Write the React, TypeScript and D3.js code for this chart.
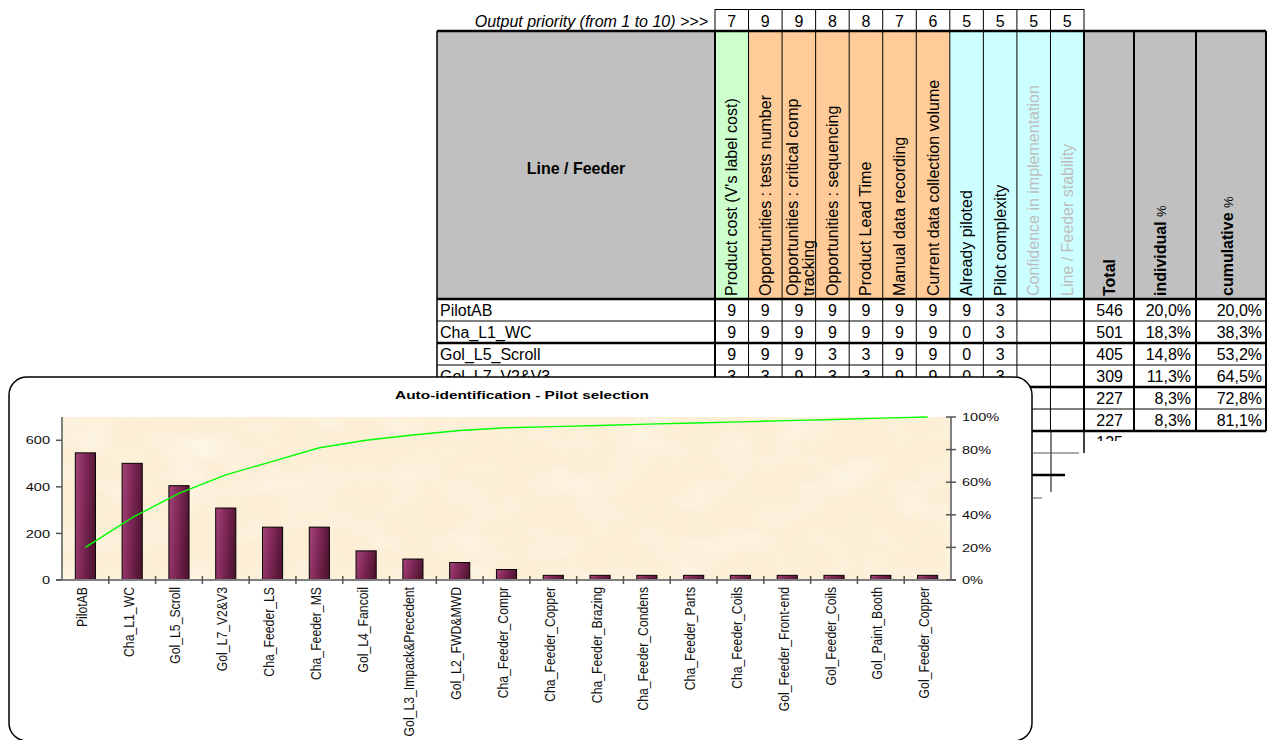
import React from 'react';
import * as d3 from 'd3';

// ---------- DATA ----------
const categories = [
  'PilotAB', 'Cha_L1_WC', 'Gol_L5_Scroll', 'Gol_L7_V2&V3', 'Cha_Feeder_LS', 'Cha_Feeder_MS',
  'Gol_L4_Fancoil', 'Gol_L3_Impack&Precedent', 'Gol_L2_FWD&MWD', 'Cha_Feeder_Compr',
  'Cha_Feeder_Copper', 'Cha_Feeder_Brazing', 'Cha_Feeder_Condens', 'Cha_Feeder_Parts',
  'Cha_Feeder_Coils', 'Gol_Feeder_Front-end', 'Gol_Feeder_Coils', 'Gol_Paint_Booth', 'Gol_Feeder_Copper',
];
const totals = [546, 501, 405, 309, 227, 227, 125, 90, 75, 45, 20, 20, 20, 20, 20, 20, 20, 20, 20];
const cumulativePct = [20.0, 38.3, 53.2, 64.5, 72.8, 81.1, 85.7, 89.0, 91.7, 93.4, 94.1, 94.8, 95.6, 96.3, 97.0, 97.8, 98.5, 99.3, 100.0];
const individualPct = [20.0, 18.3, 14.8, 11.3, 8.3, 8.3];
const leftTicks = [0, 200, 400, 600];
const rightTicks = [0, 20, 40, 60, 80, 100];

const criteria = [
  "Product cost (V's label cost)",
  'Opportunities : tests number',
  'Opportunities : critical comp|tracking',
  'Opportunities : sequencing',
  'Product Lead Time',
  'Manual data recording',
  'Current data collection volume',
  'Already piloted',
  'Pilot complexity',
  'Confidence in implementation',
  'Line / Feeder stability',
];
const criteriaGroup = ['cost', 'opp', 'opp', 'opp', 'opp', 'opp', 'opp', 'pilot', 'pilot', 'pilot', 'pilot'];
const criteriaMuted = [false, false, false, false, false, false, false, false, false, true, true];
const priorities = [7, 9, 9, 8, 8, 7, 6, 5, 5, 5, 5];
const scores: (number | null)[][] = [
  [9, 9, 9, 9, 9, 9, 9, 9, 3, null, null],
  [9, 9, 9, 9, 9, 9, 9, 0, 3, null, null],
  [9, 9, 9, 3, 3, 9, 9, 0, 3, null, null],
  [3, 3, 9, 3, 3, 9, 9, 0, 3, null, null],
];

// ---------- STYLE ----------
const FONT = 'Liberation Sans, Arial, Helvetica, sans-serif';
const groupFill: Record<string, string> = { cost: '#CCFFCC', opp: '#FFCC99', pilot: '#CCFFFF' };
const GRAY = '#C0C0C0';

const fmtPct = (v: number) => v.toFixed(1).replace('.', ',') + '%';

function ST(props: any) {
  const { x, y, sx = 1, sy = 1, rot = 0, children, ...rest } = props;
  return (
    <text transform={`translate(${x},${y}) rotate(${rot}) scale(${sx},${sy})`} fontFamily={FONT} {...rest}>
      {children}
    </text>
  );
}

export default function App() {
  // ---- table layout ----
  const tLeft = 437, nameRight = 715, critRight = 1084, totRight = 1134, indRight = 1196, cumRight = 1266;
  const prioTop = 9.5, headTop = 31, headBottom = 299;
  const colX = d3.scaleBand<number>().domain(d3.range(criteria.length)).range([nameRight, critRight]);
  const cw = colX.bandwidth();
  const rowY = d3.scaleLinear().domain([0, 6]).range([headBottom, 431]);
  const nRows = 6;
  const tSy = 1.08;
  const tFs = 16;
  const capT = 0.716 * tFs * tSy;

  // ---- chart layout ----
  const box = { x: 9, y: 377, w: 1023, h: 364, r: 18 };
  const pl = 62, pr = 951, pt = 417, pb = 580;
  const x = d3.scaleBand<string>().domain(categories).range([pl, pr]);
  const bw = x.bandwidth();
  const barW = bw * 0.43;
  const y = d3.scaleLinear().domain([0, 700]).range([pb, pt]);
  const yp = d3.scaleLinear().domain([0, 100]).range([pb, pt]);
  const line = d3.line<number>()
    .x((_, i) => (x(categories[i]) as number) + bw / 2)
    .y((d) => yp(d));

  const cFs = 13.5, cSx = 1.08, cSy = 0.86;
  const capC = 0.716 * cFs * cSy;

  const vLines: number[] = [];
  for (let i = 1; i < criteria.length; i++) vLines.push(colX(i) as number);

  return (
    <svg width={1273} height={740} style={{ position: 'absolute', left: 0, top: 0, display: 'block', background: '#fff' }}>
      <defs>
        <linearGradient id="barGrad" x1="0" y1="0" x2="1" y2="0.25">
          <stop offset="0%" stopColor="#A5457A" />
          <stop offset="45%" stopColor="#842A5B" />
          <stop offset="100%" stopColor="#551634" />
        </linearGradient>
        <filter id="paperLight" x="0" y="0" width="100%" height="100%">
          <feTurbulence type="fractalNoise" baseFrequency="0.018 0.03" numOctaves="3" seed="7" />
          <feColorMatrix type="matrix" values="0 0 0 0 1  0 0 0 0 1  0 0 0 0 0.98  1.8 0 0 0 -0.85" />
        </filter>
        <filter id="paperDark" x="0" y="0" width="100%" height="100%">
          <feTurbulence type="fractalNoise" baseFrequency="0.025 0.04" numOctaves="2" seed="21" />
          <feColorMatrix type="matrix" values="0 0 0 0 0.93  0 0 0 0 0.84  0 0 0 0 0.68  0 1.6 0 0 -0.85" />
        </filter>
        <clipPath id="row7clip">
          <rect x={1086} y={431} width={40} height={10} />
        </clipPath>
      </defs>

      {/* ================= TABLE ================= */}
      <g>
        <ST x={708} y={26.5} sy={tSy} fontSize={tFs} fontStyle="italic" textAnchor="end" fill="#000">
          Output priority (from 1 to 10) &gt;&gt;&gt;
        </ST>
        <rect x={nameRight} y={prioTop} width={critRight - nameRight} height={headTop - prioTop} fill="#fff" stroke="#000" strokeWidth={1} />
        {priorities.map((p, i) => (
          <g key={'p' + i}>
            {i > 0 && <line x1={colX(i)} x2={colX(i)} y1={prioTop} y2={headTop} stroke="#000" strokeWidth={1} />}
            <ST x={(colX(i) as number) + cw / 2} y={prioTop + 11 + capT / 2} sy={tSy} fontSize={tFs} textAnchor="middle">{p}</ST>
          </g>
        ))}

        <rect x={tLeft} y={headTop} width={nameRight - tLeft} height={headBottom - headTop} fill={GRAY} />
        {criteria.map((c, i) => (
          <rect key={'hc' + i} x={colX(i)} y={headTop} width={cw} height={headBottom - headTop} fill={groupFill[criteriaGroup[i]]} />
        ))}
        <rect x={critRight} y={headTop} width={cumRight - critRight} height={headBottom - headTop} fill={GRAY} />

        <ST x={(tLeft + nameRight) / 2} y={168 + capT / 2} sy={tSy} fontSize={tFs} fontWeight="bold" textAnchor="middle">Line / Feeder</ST>
        {criteria.map((c, i) => {
          const lines = c.split('|');
          const cx = (colX(i) as number) + cw / 2;
          const fill = criteriaMuted[i] ? '#BDBDBD' : '#000';
          if (lines.length === 1) {
            return <ST key={'ht' + i} x={cx + 5.5} y={296} rot={-90} fontSize={tFs} fill={fill}>{c}</ST>;
          }
          return (
            <g key={'ht' + i}>
              <ST x={cx - 1} y={296} rot={-90} fontSize={tFs} fill={fill}>{lines[0]}</ST>
              <ST x={cx + 15} y={296} rot={-90} fontSize={tFs} fill={fill}>{lines[1]}</ST>
            </g>
          );
        })}
        <ST x={(critRight + totRight) / 2 + 5.5} y={296} rot={-90} fontSize={tFs} fontWeight="bold">Total</ST>
        <ST x={(totRight + indRight) / 2 + 1} y={296} rot={-90} fontSize={tFs}>
          <tspan fontWeight="bold">individual</tspan> <tspan fontSize={13}>%</tspan>
        </ST>
        <ST x={(indRight + cumRight) / 2 + 2} y={296} rot={-90} fontSize={tFs}>
          <tspan fontWeight="bold">cumulative</tspan> <tspan fontSize={13}>%</tspan>
        </ST>

        {d3.range(nRows).map((r) => {
          const top = rowY(r);
          const bot = rowY(r + 1);
          const cy = (top + bot) / 2 + capT / 2;
          return (
            <g key={'r' + r}>
              <ST x={tLeft + 3} y={cy} sy={tSy} fontSize={tFs}>{categories[r]}</ST>
              {scores[r] && scores[r].map((s, i) =>
                s === null ? null : (
                  <ST key={'s' + i} x={(colX(i) as number) + cw / 2} y={cy} sy={tSy} fontSize={tFs} textAnchor="middle">{s}</ST>
                ),
              )}
              <ST x={totRight - 11} y={cy} sy={tSy} fontSize={tFs} textAnchor="end">{totals[r]}</ST>
              <ST x={indRight - 5} y={cy} sy={tSy} fontSize={tFs} textAnchor="end">{fmtPct(individualPct[r])}</ST>
              <ST x={cumRight - 4} y={cy} sy={tSy} fontSize={tFs} textAnchor="end">{fmtPct(cumulativePct[r])}</ST>
            </g>
          );
        })}

        {d3.range(1, nRows + 1).map((k) => (
          <line key={'hl' + k} x1={tLeft} x2={cumRight} y1={rowY(k)} y2={rowY(k)} stroke="#000" strokeWidth={k % 2 === 0 ? 2.5 : 1} />
        ))}
        <line x1={tLeft} x2={cumRight} y1={headTop} y2={headTop} stroke="#000" strokeWidth={2.5} />
        <line x1={tLeft} x2={cumRight} y1={headBottom} y2={headBottom} stroke="#000" strokeWidth={2.5} />
        {vLines.map((vx, i) => (
          <line key={'vl' + i} x1={vx} x2={vx} y1={headTop} y2={rowY(nRows)} stroke="#000" strokeWidth={1} />
        ))}
        {[tLeft, nameRight, critRight, totRight, indRight, cumRight].map((vx, i) => (
          <line key={'vt' + i} x1={vx} x2={vx} y1={headTop} y2={rowY(nRows)} stroke="#000" strokeWidth={i === 0 ? 1.5 : 2} />
        ))}
      </g>

      {/* ================= CHART ================= */}
      <g>
        <rect x={box.x} y={box.y} width={box.w} height={box.h} rx={box.r} ry={box.r} fill="#fff" stroke="#000" strokeWidth={1.5} />
        <ST x={522} y={399} sx={1.1} sy={0.83} fontSize={14} fontWeight="bold" textAnchor="middle">
          Auto-identification - Pilot selection
        </ST>

        <rect x={pl} y={pt} width={pr - pl} height={pb - pt} fill="#FCEFD6" />
        <rect x={pl} y={pt} width={pr - pl} height={pb - pt} fill="#fff" filter="url(#paperDark)" opacity={0.45} />
        <rect x={pl} y={pt} width={pr - pl} height={pb - pt} fill="#fff" filter="url(#paperLight)" opacity={0.55} />

        {categories.map((c, i) => (
          <rect
            key={'b' + i}
            x={(x(c) as number) + (bw - barW) / 2}
            y={y(totals[i])}
            width={barW}
            height={pb - y(totals[i])}
            fill="url(#barGrad)"
            stroke="#000"
            strokeWidth={1}
          />
        ))}

        <path d={line(cumulativePct) as string} fill="none" stroke="#00FF00" strokeWidth={1.4} />

        <line x1={pl} x2={pl} y1={pt} y2={pb} stroke="#808080" strokeWidth={2} />
        <line x1={pr} x2={pr} y1={pt} y2={pb} stroke="#808080" strokeWidth={2} />
        <line x1={pl - 6} x2={pr + 5} y1={pb} y2={pb} stroke="#808080" strokeWidth={2} />
        {leftTicks.map((t) => (
          <g key={'lt' + t}>
            <line x1={pl - 6} x2={pl} y1={y(t)} y2={y(t)} stroke="#555" strokeWidth={1.5} />
            <ST x={50} y={y(t) + capC / 2} sx={cSx} sy={cSy} fontSize={cFs} textAnchor="end" fill="#111">{t}</ST>
          </g>
        ))}
        {rightTicks.map((t) => (
          <g key={'rt' + t}>
            <line x1={pr - 5} x2={pr + 5} y1={yp(t)} y2={yp(t)} stroke="#555" strokeWidth={1.5} />
            <ST x={962} y={yp(t) + capC / 2} sx={cSx} sy={cSy} fontSize={cFs} fill="#111">{t + '%'}</ST>
          </g>
        ))}
        {categories.map((c, i) =>
          i === 0 ? null : (
            <line key={'xt' + i} x1={x(c)} x2={x(c)} y1={pb - 4} y2={pb + 4} stroke="#555" strokeWidth={1.5} />
          ),
        )}
        {categories.map((c, i) => (
          <ST
            key={'xl' + i}
            x={(x(c) as number) + bw / 2 + 1.5}
            y={587}
            rot={-90}
            sx={0.94}
            sy={1.12}
            fontSize={13}
            textAnchor="end"
            fill="#111"
          >
            {c}
          </ST>
        ))}
      </g>

      {/* table fragments visible to the right of the chart */}
      <g>
        <line x1={1051} x2={1051} y1={431} y2={492} stroke="#000" strokeWidth={1} />
        <line x1={1084} x2={1084} y1={431} y2={453} stroke="#000" strokeWidth={1.5} />
        <line x1={1032} x2={1079} y1={453} y2={453} stroke="#555" strokeWidth={1} />
        <line x1={1032} x2={1065} y1={475} y2={475} stroke="#000" strokeWidth={2.5} />
        <line x1={1032} x2={1042} y1={498} y2={498} stroke="#555" strokeWidth={1} />
        <g clipPath="url(#row7clip)">
          <ST x={totRight - 11} y={(rowY(6) + rowY(7)) / 2 + capT / 2} sy={tSy} fontSize={tFs} textAnchor="end">{totals[6]}</ST>
        </g>
      </g>
    </svg>
  );
}
